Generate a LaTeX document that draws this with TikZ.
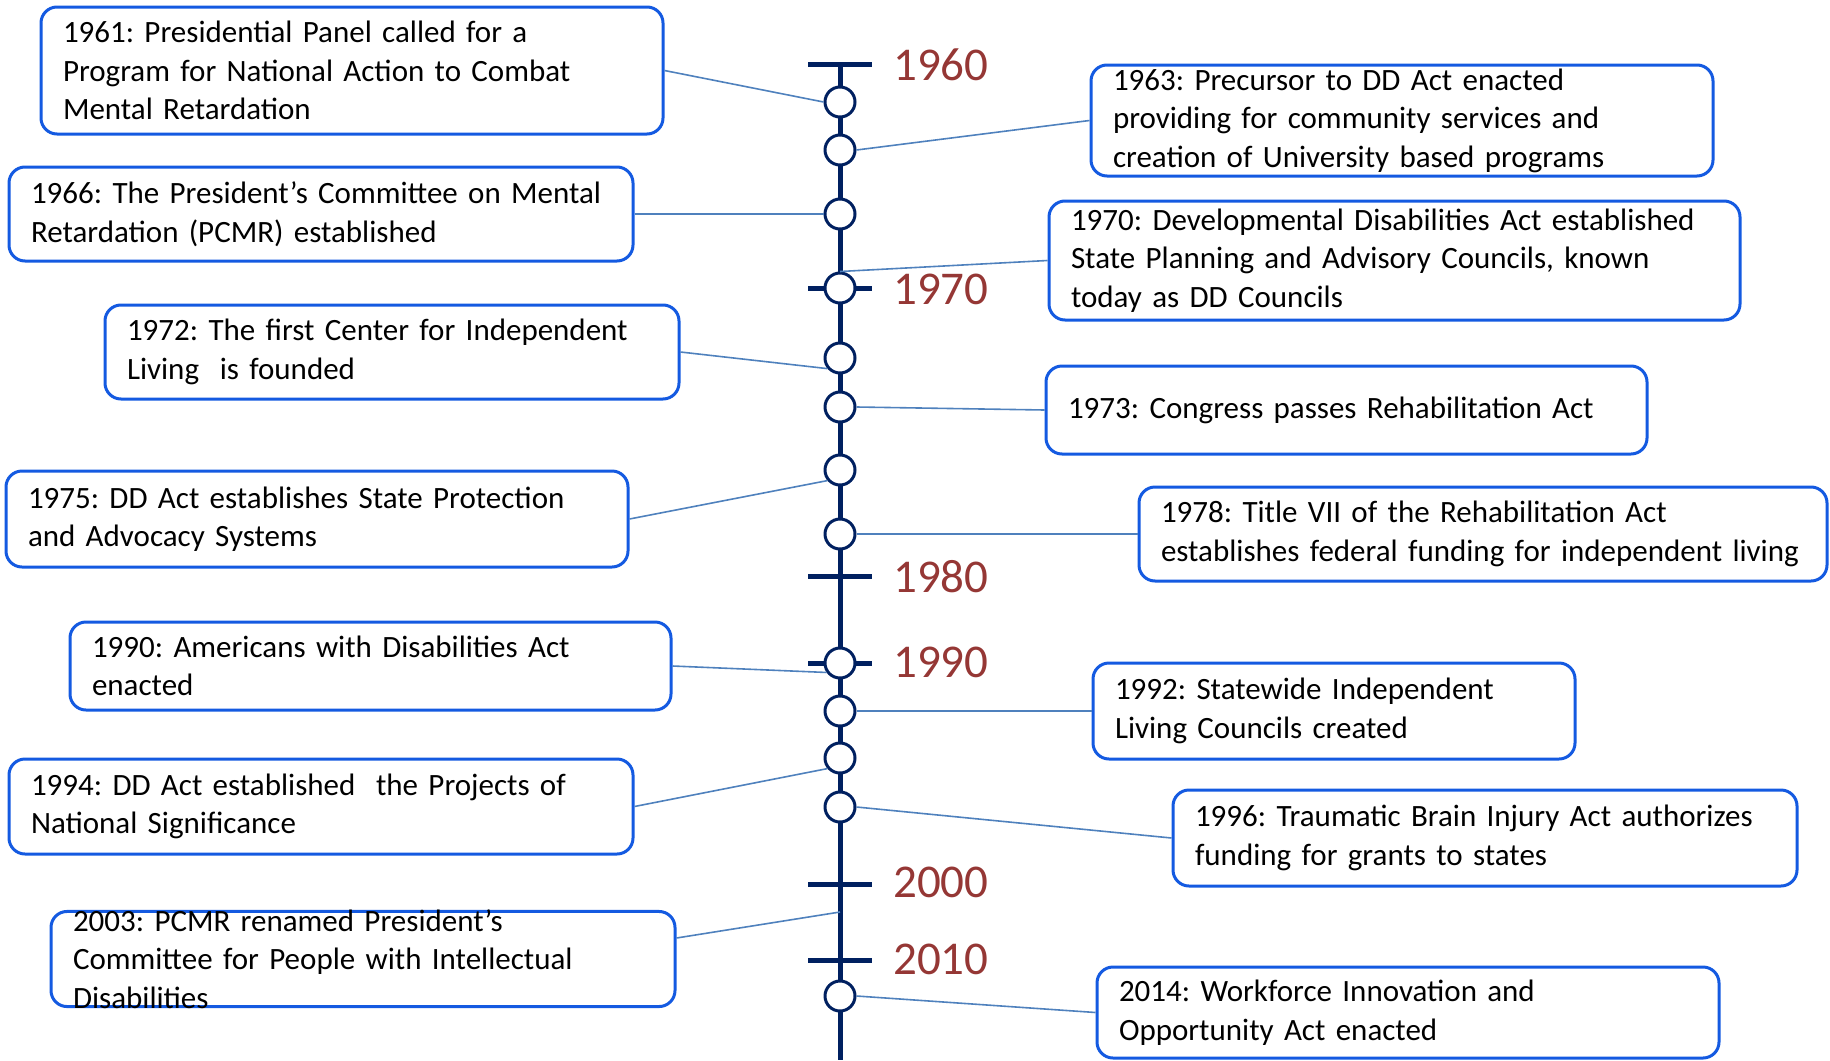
\documentclass[tikz,border=0pt]{standalone}
\usepackage{fontspec}
\setmainfont{Carlito}
\usetikzlibrary{calc}
\definecolor{navy}{RGB}{0,32,96}
\definecolor{rouge}{RGB}{149,55,53}
\definecolor{bleu}{RGB}{20,90,225}
\definecolor{lien}{RGB}{79,129,189}
\frenchspacing
\hyphenpenalty=10000
\begin{document}
\begin{tikzpicture}[x=1pt,y=-1pt,
    boite/.style={draw=bleu,line width=3pt,rounded corners=16pt,fill=white,align=left,
      inner xsep=22pt,inner ysep=0pt,font=\fontsize{31}{38.5}\selectfont},
    rond/.style={circle,draw=navy,line width=3pt,fill=white,minimum size=30pt,inner sep=0pt},
    annee/.style={text=rouge,anchor=west,inner sep=0pt,font=\fontsize{47}{56}\selectfont},
    trait/.style={draw=lien,line width=1.6pt}]
                    \useasboundingbox (0,0) rectangle (1830,1060);

                    % axe
                    \draw[navy,line width=5pt] (840,64) -- (840,1060);
                    \draw[navy,line width=5pt] (808,64) -- (872,64);
                    \draw[navy,line width=5pt] (808,288) -- (872,288);
                    \draw[navy,line width=5pt] (808,576) -- (872,576);
                    \draw[navy,line width=5pt] (808,663) -- (872,663);
                    \draw[navy,line width=5pt] (808,884) -- (872,884);
                    \draw[navy,line width=5pt] (808,960) -- (872,960);

                    % années
                    \node[annee] (y60) at (893,65) {1960};
                    \node[annee] (y70) at (893,289) {1970};
                    \node[annee] (y80) at (893,577) {1980};
                    \node[annee] (y90) at (893,662) {1990};
                    \node[annee] (y00) at (893,882) {2000};
                    \node[annee] (y10) at (893,959) {2010};

                    % ronds
                    \node[rond] (c61) at (840,102) {};
                    \node[rond] (c63) at (840,150) {};
                    \node[rond] (c66) at (840,214) {};
                    \node[rond] (c70) at (840,288) {};
                    \node[rond] (c72) at (840,358) {};
                    \node[rond] (c73) at (840,407) {};
                    \node[rond] (c75) at (840,470) {};
                    \node[rond] (c78) at (840,534) {};
                    \node[rond] (c90) at (840,663) {};
                    \node[rond] (c92) at (840,711) {};
                    \node[rond] (c94) at (840,758) {};
                    \node[rond] (c96) at (840,807) {};
                    \node[rond] (c14) at (840,996) {};

                    % boîtes à gauche
                    \node[boite,text width=578pt,minimum height=127pt] (b61) at (352,70.5) {1961: Presidential Panel called for a\\Program for National Action to Combat\\Mental Retardation};
                    \node[boite,text width=580pt,minimum height=94pt] (b66) at (321,214) {1966: The President’s Committee on Mental\\Retardation (PCMR) established};
                    \node[boite,text width=530pt,minimum height=94pt] (b72) at (392,352) {1972: The first Center for Independent\\Living\ \ is founded};
                    \node[boite,text width=578pt,minimum height=96pt] (b75) at (317,519) {1975: DD Act establishes State Protection\\and Advocacy Systems};
                    \node[boite,text width=557pt,minimum height=88pt] (b90) at (370.5,666) {1990: Americans with Disabilities Act\\enacted};
                    \node[boite,text width=580pt,minimum height=95pt] (b94) at (321,806.5) {1994: DD Act established\ \ the Projects of\\National Significance};
                    \node[boite,text width=580pt,inner ysep=-2pt] (b03) at (363,959) {2003: PCMR renamed President’s\\Committee for People with Intellectual\\Disabilities};

                    % boîtes à droite
                    \node[boite,text width=578pt,minimum height=111pt] (b63) at (1402,120.5) {1963: Precursor to DD Act enacted\\providing for community services and\\creation of University based programs};
                    \node[boite,text width=647pt,minimum height=119pt] (b70) at (1394.5,260.5) {1970: Developmental Disabilities Act established\\State Planning and Advisory Councils, known\\today as DD Councils};
                    \node[boite,text width=557pt,minimum height=88pt] (b73) at (1346.5,410) {1973: Congress passes Rehabilitation Act};
                    \node[boite,text width=644pt,minimum height=94pt] (b78) at (1483,534) {1978: Title VII of the Rehabilitation Act\\\mbox{establishes federal funding for independent living}};
                    \node[boite,text width=438pt,minimum height=96pt] (b92) at (1334,711) {1992: Statewide Independent\\Living Councils created};
                    \node[boite,text width=580pt,minimum height=96pt] (b96) at (1485,838) {1996: Traumatic Brain Injury Act authorizes\\funding for grants to states};
                    \node[boite,text width=578pt,minimum height=91pt] (b14) at (1408,1012.5) {2014: Workforce Innovation and\\Opportunity Act enacted};

                    % liens
                    \draw[trait] (b61.east) -- (c61.west);
                    \draw[trait] (b66.east) -- (c66.west);
                    \draw[trait] (b72.east) -- (c72.220);
                    \draw[trait] (b75.east) -- (c75.220);
                    \draw[trait] (b90.east) -- (c90.215);
                    \draw[trait] (b94.east) -- (c94.220);
                    \coordinate (p03) at (840,912);
                    \coordinate (q03) at ($(b03.east)+(0,-21)$);
                    \draw[trait] (q03) -- (p03);
                    \draw[trait] (c63.east) -- (b63.west);
                    \draw[trait] (c70.north) -- (b70.west);
                    \draw[trait] (c73.east) -- (b73.west);
                    \draw[trait] (c78.east) -- (b78.west);
                    \draw[trait] (c92.east) -- (b92.west);
                    \draw[trait] (c96.east) -- (b96.west);
                    \draw[trait] (c14.east) -- (b14.west);
\end{tikzpicture}
\end{document}
